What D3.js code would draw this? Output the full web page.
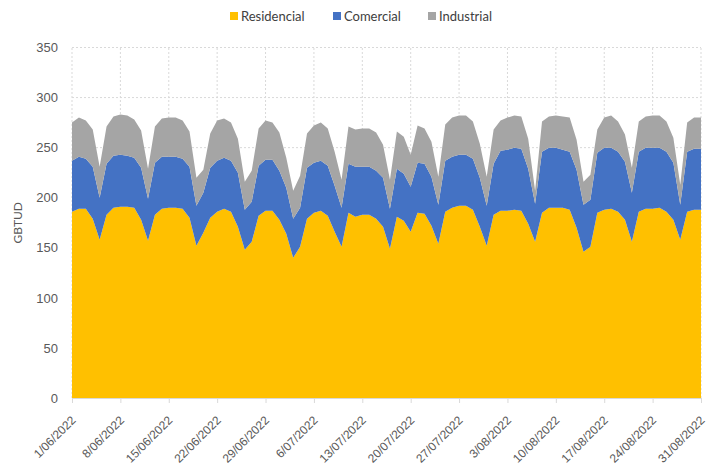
<!DOCTYPE html>
<html>
<head>
<meta charset="utf-8">
<script src="https://cdn.jsdelivr.net/npm/d3@7"></script>
<style>
  html, body { margin: 0; padding: 0; background: #ffffff; }
  svg { display: block; font-family: Lato, "Open Sans", "Liberation Sans", sans-serif; }
</style>
</head>
<body>
<svg id="chart" width="707" height="475"></svg>
<script>
// Daily gas demand by sector, 1 June – 31 August 2022 (GBTUD)
const startDate = "2022-06-01";
const seriesNames = ["Residencial", "Comercial", "Industrial"];
const seriesColors = ["#FFC000", "#4472C4", "#A5A5A5"];

const residencial = [
  186, 189, 189, 179, 158, 183, 190, 191, 191, 190, 178, 157, 183, 189,
  190, 190, 189, 180, 152, 165, 180, 186, 189, 186, 171, 148, 156, 182,
  187, 187, 178, 164, 140, 151, 179, 185, 187, 182, 166, 151, 185, 181,
  183, 183, 179, 171, 149, 181, 177, 166, 185, 184, 172, 154, 186, 190,
  192, 192, 188, 171, 152, 183, 187, 187, 188, 187, 174, 156, 185, 190,
  190, 190, 188, 170, 146, 151, 185, 188, 189, 186, 178, 156, 186, 189,
  189, 190, 186, 178, 158, 186, 188, 188
];
const comercial = [
  51, 52, 50, 52, 42, 51, 52, 52, 51, 50, 52, 42, 52, 52,
  51, 51, 50, 51, 40, 40, 50, 51, 51, 51, 54, 40, 40, 50,
  51, 51, 49, 46, 39, 39, 51, 50, 50, 50, 46, 39, 49, 50,
  48, 48, 48, 49, 40, 48, 47, 45, 50, 50, 49, 39, 51, 51,
  51, 51, 51, 49, 40, 51, 60, 61, 62, 62, 55, 38, 61, 60,
  60, 58, 58, 58, 47, 47, 60, 62, 61, 60, 58, 49, 60, 61,
  61, 60, 60, 57, 35, 60, 61, 61
];
const industrial = [
  38, 39, 38, 37, 31, 37, 39, 40, 40, 38, 37, 30, 36, 38,
  39, 39, 38, 35, 28, 23, 34, 40, 39, 38, 34, 28, 31, 37,
  39, 37, 38, 30, 28, 32, 34, 37, 38, 37, 34, 28, 37, 37,
  38, 38, 38, 33, 29, 37, 37, 32, 37, 35, 35, 28, 36, 39,
  39, 39, 37, 34, 29, 34, 30, 32, 32, 32, 30, 13, 30, 31,
  32, 33, 34, 30, 23, 25, 23, 30, 32, 30, 27, 25, 30, 31,
  32, 32, 30, 25, 20, 29, 31, 31
];
const yTicks = [0, 50, 100, 150, 200, 250, 300, 350];
const xTickLabels = [
  "1/06/2022", "8/06/2022", "15/06/2022", "22/06/2022", "29/06/2022",
  "6/07/2022", "13/07/2022", "20/07/2022", "27/07/2022", "3/08/2022",
  "10/08/2022", "17/08/2022", "24/08/2022", "31/08/2022"
];

// Build row objects for the stack layout
const parse = d3.utcParse("%Y-%m-%d");
const day0 = parse(startDate);
const rows = residencial.map((r, i) => ({
  date: d3.utcDay.offset(day0, i),
  Residencial: r,
  Comercial: comercial[i],
  Industrial: industrial[i]
}));
const tickDates = xTickLabels.map((_, k) => d3.utcDay.offset(day0, k * 7));

const svg = d3.select("#chart");
const margin = { left: 72, right: 6, top: 47.5, bottom: 77 };
const W = 707, H = 475;

const x = d3.scaleUtc()
  .domain([rows[0].date, rows[rows.length - 1].date])
  .range([margin.left, W - margin.right]);
const y = d3.scaleLinear()
  .domain([0, 350])
  .range([H - margin.bottom, margin.top]);

// Dotted gridlines
const grid = svg.append("g").attr("class", "grid");
grid.selectAll("line.h").data(yTicks.filter(t => t > 0)).join("line")
  .attr("x1", margin.left).attr("x2", W - margin.right)
  .attr("y1", d => y(d)).attr("y2", d => y(d))
  .attr("stroke", "#D9D9D9").attr("stroke-width", 1)
  .attr("stroke-dasharray", "2,2");
grid.selectAll("line.v").data(tickDates).join("line")
  .attr("x1", d => x(d)).attr("x2", d => x(d))
  .attr("y1", y(0)).attr("y2", y(350))
  .attr("stroke", "#D9D9D9").attr("stroke-width", 1)
  .attr("stroke-dasharray", "2,2");

// Stacked areas
const stack = d3.stack().keys(seriesNames);
const layers = stack(rows);
const area = d3.area()
  .x(d => x(d.data.date))
  .y0(d => y(d[0]))
  .y1(d => y(d[1]));
svg.append("g").selectAll("path").data(layers).join("path")
  .attr("d", area)
  .attr("fill", (d, i) => seriesColors[i]);

// Y axis (labels only, no domain line)
const yAxis = svg.append("g")
  .attr("transform", `translate(${margin.left},0)`)
  .call(d3.axisLeft(y).tickValues(yTicks).tickSize(0).tickPadding(14));
yAxis.select(".domain").remove();
yAxis.selectAll("text")
  .attr("fill", "#595959").style("font-size", "13px");

// X axis with rotated date labels
const xAxis = svg.append("g")
  .attr("transform", `translate(0,${y(0)})`)
  .call(d3.axisBottom(x).tickValues(tickDates)
    .tickFormat((d, i) => xTickLabels[i]).tickSize(5));
xAxis.select(".domain").attr("stroke", "#D9D9D9");
xAxis.selectAll(".tick line").attr("stroke", "#D9D9D9");
xAxis.selectAll("text")
  .attr("fill", "#595959").style("font-size", "12px")
  .attr("text-anchor", "end")
  .attr("x", 0).attr("y", 0).attr("dx", 0).attr("dy", "0.35em")
  .attr("transform", "translate(1,20) rotate(-45)");

// Axis title
svg.append("text")
  .attr("transform", `translate(22,${(y(0) + y(350)) / 2}) rotate(-90)`)
  .attr("text-anchor", "middle")
  .attr("fill", "#595959").style("font-size", "12px")
  .text("GBTUD");

// Legend
const legendItems = [
  { name: "Residencial", x: 230 },
  { name: "Comercial", x: 333 },
  { name: "Industrial", x: 428 }
];
const legend = svg.append("g");
legendItems.forEach((it, i) => {
  legend.append("rect")
    .attr("x", it.x).attr("y", 12).attr("width", 8).attr("height", 8)
    .attr("fill", seriesColors[i]);
  legend.append("text")
    .attr("x", it.x + 11).attr("y", 20.5)
    .attr("fill", "#404040").style("font-size", "13px")
    .text(it.name);
});
</script>
</body>
</html>
